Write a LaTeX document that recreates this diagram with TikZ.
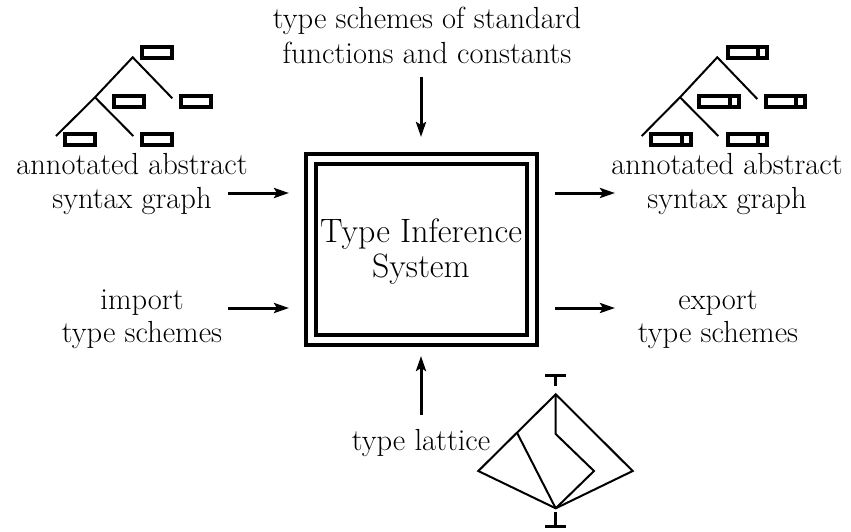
\documentclass[tikz,border=0pt]{standalone}
\usetikzlibrary{arrows.meta}
\begin{document}
\begin{tikzpicture}[x=1pt,y=-1pt,
  lbl/.style={inner sep=0pt,anchor=base,font=\fontsize{30.5}{34}\selectfont},
  big/.style={inner sep=0pt,anchor=base,font=\fontsize{33.8}{35}\selectfont},
  arr/.style={line width=3pt,-{Stealth[length=15pt,width=10pt,inset=3pt]}},
  edge/.style={line width=2pt},
  leaf/.style={draw,line width=4pt,minimum width=30pt,minimum height=11pt,inner sep=0pt},
  wleaf/.style={draw,line width=4pt,minimum width=39.5pt,minimum height=11pt,inner sep=0pt},
  tb/.style={line width=3pt}]
\useasboundingbox (0,0) rectangle (851,531);
% main box
\node[draw,line width=4pt,minimum width=231pt,minimum height=191pt] (box) at (421,249.2) {};
\node[draw,line width=4pt,minimum width=211pt,minimum height=171pt] (ibox) at (421,249.2) {};
\node[big] (t1) at (421,242) {Type Inference};
\node[big] (t2) at (421,277) {System};
% top label
\node[lbl] (top1) at (427,28) {type schemes of standard};
\node[lbl] (top2) at (427,63) {functions and constants};
% left labels
\node[lbl] (la1) at (132,174) {annotated abstract};
\node[lbl] (la2) at (132,208) {syntax graph};
\node[lbl] (li1) at (142,309) {import};
\node[lbl] (li2) at (142,342) {type schemes};
% right labels
\node[lbl] (ra1) at (727,174) {annotated abstract};
\node[lbl] (ra2) at (727,208) {syntax graph};
\node[lbl] (re1) at (718,309) {export};
\node[lbl] (re2) at (718,342) {type schemes};
% bottom label
\node[lbl] (lat) at (421,450) {type lattice};
% arrows
\coordinate (a1s) at (228,193); \coordinate (a1e) at (289,193);
\coordinate (a2s) at (228,308); \coordinate (a2e) at (289,308);
\coordinate (a3s) at (555,193); \coordinate (a3e) at (615,193);
\coordinate (a4s) at (555,308); \coordinate (a4e) at (615,308);
\coordinate (a5s) at (421,77);  \coordinate (a5e) at (421,137);
\coordinate (a6s) at (421,415); \coordinate (a6e) at (421,356);
\draw[arr] (a1s) -- (a1e);
\draw[arr] (a2s) -- (a2e);
\draw[arr] (a3s) -- (a3e);
\draw[arr] (a4s) -- (a4e);
\draw[arr] (a5s) -- (a5e);
\draw[arr] (a6s) -- (a6e);
% left tree
\coordinate (lr) at (132.7,57.3);
\coordinate (lm) at (95,97.3);
\coordinate (lrr) at (172.3,98.3);
\coordinate (lll) at (56,136);
\coordinate (llr) at (133.3,136);
\draw[edge] (lll) -- (lm) -- (lr) -- (lrr);
\draw[edge] (lm) -- (llr);
\node[leaf] (lb1) at (157,52) {};
\node[leaf] (lb2) at (128.5,101) {};
\node[leaf] (lb3) at (196,101) {};
\node[leaf] (lb4) at (80,139) {};
\node[leaf] (lb5) at (156.7,139) {};
% right tree
\coordinate (rr) at (717.3,57.3);
\coordinate (rm) at (680,97.3);
\coordinate (rrr) at (757.3,99);
\coordinate (rll) at (641.7,136);
\coordinate (rlr) at (718.3,136);
\draw[edge] (rll) -- (rm) -- (rr) -- (rrr);
\draw[edge] (rm) -- (rlr);
\foreach \n/\x/\y in {rb1/747.7/52, rb2/719/101, rb3/785.7/101, rb4/670.8/139, rb5/747.7/139}{
  \node[wleaf] (\n) at (\x,\y) {};
  \draw[line width=4pt] ([xshift=-11pt]\n.north east) -- ([xshift=-11pt]\n.south east);
}
% lattice
\coordinate (top) at (555.7,394.3);
\coordinate (lv) at (478.3,471);
\coordinate (bv) at (555.7,508.3);
\coordinate (rv) at (632.7,471);
\coordinate (le) at (517.3,433.3);
\coordinate (mc) at (555.7,434);
\coordinate (mr) at (594,471);
\draw[edge] (top) -- (lv) -- (bv) -- (rv) -- cycle;
\draw[edge] (le) -- (bv);
\draw[edge] (top) -- (mc) -- (mr) -- (bv);
% top and bottom symbols
\coordinate (tt) at (555.7,375); \coordinate (ts) at (555.7,386);
\draw[tb] (545,375) -- (566,375);
\draw[tb] (tt) -- (ts);
\coordinate (bt) at (555.7,512); \coordinate (bs) at (555.7,526);
\draw[tb] (bt) -- (bs);
\draw[tb] (545,526) -- (566,526);
\end{tikzpicture}
\end{document}
